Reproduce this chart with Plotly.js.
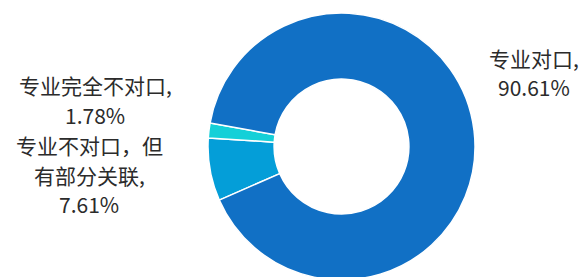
<!DOCTYPE html>
<html>
<head>
<meta charset="utf-8">
<script src="https://cdn.plot.ly/plotly-3.0.1.min.js"></script>
<style>
html,body{margin:0;padding:0;overflow:hidden;background:#fff;}
#chart{width:584px;height:285px;}
</style>
</head>
<body>
<div id="chart"></div>
<script>
// Data (clockwise order starting from lower-left)
const categories = ["专业不对口，但有部分关联", "专业完全不对口", "专业对口"];
const values = [7.61, 1.78, 90.61];
const colors = ["#049ED8", "#14D0D8", "#1170C5"];

// Label text lines (built from data)
const labelLines = {
  "专业对口": ["专业对口,"],
  "专业完全不对口": ["专业完全不对口,"],
  "专业不对口，但有部分关联": ["专业不对口，但", "有部分关联,"]
};
// Label anchor centers (page px) for each category
const labelPos = {
  "专业对口": [534, 58],
  "专业完全不对口": [95, 85],
  "专业不对口，但有部分关联": [89, 145]
};

const W = 584, H = 285, T = 8;
function px2paper(x, y) { return [x / W, (H - y) / (H - T)]; }

const font = {family: "Noto Sans CJK SC, Noto Sans, sans-serif", size: 21, color: "#2b2b2b"};
const lineGap = 29.5;
const annotations = [];
categories.forEach((c, i) => {
  const lines = labelLines[c].concat([values[i].toFixed(2) + "%"]);
  const [cx, cy] = labelPos[c];
  lines.forEach((t, k) => {
    const [ax, ay] = px2paper(cx, cy + k * lineGap);
    annotations.push({
      text: t, x: ax, y: ay, xref: "paper", yref: "paper",
      xanchor: "center", yanchor: "middle", showarrow: false, font: font
    });
  });
});

const trace = {
  type: "pie",
  labels: categories,
  values: values,
  hole: 0.505,
  sort: false,
  direction: "clockwise",
  rotation: 246.3,
  textinfo: "none",
  hoverinfo: "label+percent",
  marker: {colors: colors, line: {color: "#ffffff", width: 1.5}},
  domain: {x: [208 / W, 475 / W], y: [0, 1]},
  showlegend: false
};

Plotly.newPlot("chart", [trace], {
  width: W, height: H,
  margin: {l: 0, r: 0, t: T, b: 0, pad: 0},
  paper_bgcolor: "#ffffff",
  plot_bgcolor: "#ffffff",
  annotations: annotations,
  showlegend: false
}, {displayModeBar: false, staticPlot: true});
</script>
</body>
</html>
